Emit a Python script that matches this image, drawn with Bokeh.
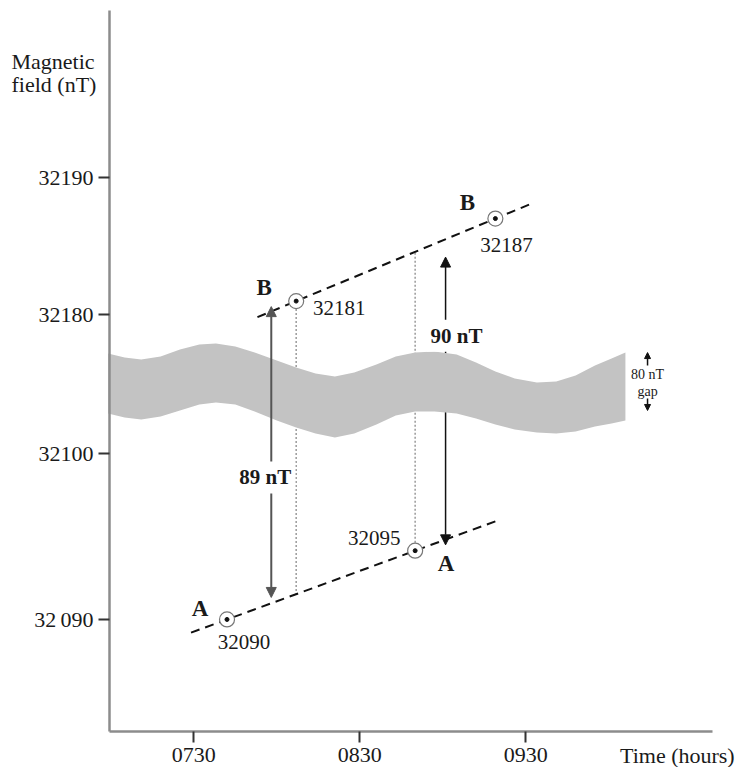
import numpy as np
from bokeh.plotting import figure
from bokeh.models import Range1d, FixedTicker, Arrow, NormalHead, ColumnDataSource
from bokeh.core.properties import value
from bokeh.embed import file_html
from bokeh.resources import INLINE

# ---------------- data ----------------
Y_TICK_VALUES = [32090, 32100, 32180, 32190]
Y_TICK_LABELS = ["32\u2009090", "32100", "32180", "32190"]
X_TICK_TIMES = ["07:30", "08:30", "09:30"]
X_TICK_LABELS = ["0730", "0830", "0930"]
Y_TITLE = ["Magnetic", "field (nT)"]
X_TITLE = "Time (hours)"

POINT_NAMES = ["A", "B", "A", "B"]
POINT_TIMES = ["07:42", "08:07", "08:50", "09:19"]
POINT_VALUES = [32090, 32181, 32095, 32187]
POINT_TEXT = ["32090", "32181", "32095", "32187"]

LINE_A_TIMES = ["07:29", "09:20"]
LINE_B_TIMES = ["07:53", "09:33"]

ARROW_TIMES = ["07:58", "09:01"]
ARROW_LOW = [32091.6, 32095.3]
ARROW_HIGH = [32180.6, 32184.2]
ARROW_TEXT = ["89 nT", "90 nT"]

GAP_TEXT = ["80 nT", "gap"]

# axis break: field value (nT) -> position on the drawn (broken) axis
BREAK_NT = [32080, 32095, 32100, 32180, 32200]
BREAK_POS = [-10.0, 5.0, 12.04, 22.14, 42.14]

# grey band marking the axis break (minutes, axis position)
BAND_TIMES = [419, 425, 431, 438, 445, 452, 458, 465, 472, 480, 487, 494, 501, 508,
              516, 523, 530, 537, 545, 552, 559, 566, 574, 581, 588, 595, 601, 606]
BAND_TOP = [19.33, 19.04, 18.90, 19.11, 19.62, 19.99, 20.06, 19.84, 19.40, 18.82, 18.31,
            17.88, 17.66, 17.95, 18.53, 19.11, 19.40, 19.48, 19.26, 18.68, 18.02, 17.51,
            17.22, 17.30, 17.73, 18.46, 18.97, 19.40]
BAND_BOTTOM = [14.97, 14.68, 14.53, 14.75, 15.19, 15.63, 15.77, 15.63, 15.12, 14.46, 13.95,
               13.52, 13.23, 13.52, 14.17, 14.83, 15.12, 15.12, 14.97, 14.61, 14.17, 13.81,
               13.59, 13.52, 13.66, 14.03, 14.24, 14.46]

# ---------------- layout (data units) ----------------
X_RANGE = (380.13, 645.79)
Y_RANGE = (-10.76, 44.99)
X_AXIS_AT = -8.14          # where the time axis crosses
Y_AXIS_AT = 419.57         # where the field axis crosses
X_AXIS_END = 637.48
Y_AXIS_END = 44.26


def minutes(s):
    h, m = s.split(":")
    return int(h) * 60 + int(m)


def pos(v):
    return np.interp(v, BREAK_NT, BREAK_POS)


FONT = "Liberation Serif"
TXT = "#1a1a1a"

p = figure(width=735, height=767,
           x_range=Range1d(*X_RANGE), y_range=Range1d(*Y_RANGE),
           output_backend="svg", toolbar_location=None, min_border=0,
           min_border_left=0, min_border_right=0, min_border_top=0, min_border_bottom=0)
p.outline_line_color = None
p.background_fill_color = "white"
p.border_fill_color = "white"
p.xgrid.visible = False
p.ygrid.visible = False

for ax in (p.xaxis[0], p.yaxis[0]):
    ax.axis_line_color = "#8c8c8c"
    ax.axis_line_width = 2.5
    ax.major_tick_line_color = "#333333"
    ax.major_tick_line_width = 2
    ax.major_tick_in = 0
    ax.minor_tick_line_color = None
    ax.major_label_text_font = FONT
    ax.major_label_text_font_size = "22px"
    ax.major_label_text_color = TXT

p.xaxis.fixed_location = X_AXIS_AT
p.xaxis.bounds = (Y_AXIS_AT, X_AXIS_END)
p.yaxis.fixed_location = Y_AXIS_AT
p.yaxis.bounds = (X_AXIS_AT, Y_AXIS_END)
p.xaxis.major_tick_out = 11
p.xaxis.major_label_standoff = 6
p.yaxis.major_tick_out = 11
p.yaxis.major_label_standoff = 5

xt = [float(minutes(s)) for s in X_TICK_TIMES]
p.xaxis.ticker = FixedTicker(ticks=xt)
p.xaxis.major_label_overrides = {k: lab for k, lab in zip(xt, X_TICK_LABELS)}
yt = [float(pos(v)) for v in Y_TICK_VALUES]
p.yaxis.ticker = FixedTicker(ticks=yt)
p.yaxis.major_label_overrides = {k: lab for k, lab in zip(yt, Y_TICK_LABELS)}

# points
pt = np.array([minutes(s) for s in POINT_TIMES], dtype=float)
py = pos(np.array(POINT_VALUES, dtype=float))
ia = [i for i, n in enumerate(POINT_NAMES) if n == "A"]
ib = [i for i, n in enumerate(POINT_NAMES) if n == "B"]


def fit(idx):
    k = (py[idx[1]] - py[idx[0]]) / (pt[idx[1]] - pt[idx[0]])
    return lambda t: py[idx[0]] + k * (np.asarray(t, dtype=float) - pt[idx[0]])


lineA = fit(ia)
lineB = fit(ib)

# dotted verticals joining each point to the other trend line
dx0 = [pt[ib[0]], pt[ia[1]]]
dy0 = [py[ib[0]], py[ia[1]]]
dy1 = [float(lineA(pt[ib[0]])), float(lineB(pt[ia[1]]))]
p.segment(x0=dx0, y0=dy0, x1=dx0, y1=dy1, line_color="#9a9a9a", line_width=1.5,
          line_dash="2 2")

# 90 nT arrow runs behind the band
c90 = "#111111"
a90 = Arrow(x_start=minutes(ARROW_TIMES[1]), y_start=float(pos(ARROW_LOW[1])),
            x_end=minutes(ARROW_TIMES[1]), y_end=float(pos(ARROW_HIGH[1])),
            start=NormalHead(size=10, fill_color=c90, line_color=c90),
            end=NormalHead(size=10, fill_color=c90, line_color=c90),
            line_color=c90, line_width=1.5, level="underlay")
p.add_layout(a90)

# band
p.patch(x=BAND_TIMES + BAND_TIMES[::-1], y=BAND_TOP + BAND_BOTTOM[::-1],
        fill_color="#c3c3c3", line_color=None)

# trend lines
ta = [minutes(s) for s in LINE_A_TIMES]
tb = [minutes(s) for s in LINE_B_TIMES]
p.line(ta, lineA(ta), line_color="#111111", line_width=2, line_dash="9 6")
p.line(tb, lineB(tb), line_color="#111111", line_width=2, line_dash="9 6")

# 89 nT arrow over the band
c89 = "#555555"
a89 = Arrow(x_start=minutes(ARROW_TIMES[0]), y_start=float(pos(ARROW_LOW[0])),
            x_end=minutes(ARROW_TIMES[0]), y_end=float(pos(ARROW_HIGH[0])),
            start=NormalHead(size=10, fill_color=c89, line_color=c89),
            end=NormalHead(size=10, fill_color=c89, line_color=c89),
            line_color=c89, line_width=2)
p.add_layout(a89)

# point markers
src = ColumnDataSource(dict(
    t=pt, y=py, val=POINT_TEXT, name=POINT_NAMES,
    vx=[17, 43, -41, 11], vy=[23, 7, -13, 26],
    nx=[-27, -32, 31, -28], ny=[-11, -14, 13, -16],
))
p.scatter("t", "y", source=src, size=15, fill_color="white", line_color="#777777",
          line_width=1.2)
p.scatter("t", "y", source=src, size=4, fill_color="#111111", line_color="#111111")
p.text("t", "y", text="val", source=src, x_offset="vx", y_offset="vy",
       text_align="center", text_baseline="middle", text_font=value(FONT),
       text_font_size="21px", text_color=TXT)
p.text("t", "y", text="name", source=src, x_offset="nx", y_offset="ny",
       text_align="center", text_baseline="middle", text_font=value(FONT),
       text_font_size="23px", text_font_style="bold", text_color=TXT)

# arrow labels
asrc = ColumnDataSource(dict(
    t=[minutes(s) for s in ARROW_TIMES], y=[float(pos(v)) for v in ARROW_LOW],
    text=ARROW_TEXT, dx=[-6, 11], dy=[-120, -209],
))
p.text("t", "y", text="text", source=asrc, x_offset="dx", y_offset="dy",
       text_align="center", text_baseline="middle", text_font=value(FONT),
       text_font_size="21px", text_font_style="bold", text_color=TXT,
       background_fill_color="white", padding=4, level="overlay")

# 80 nT gap note
gx = 614
p.add_layout(Arrow(x_start=gx, y_start=18.46, x_end=gx, y_end=BAND_TOP[-1],
                   end=NormalHead(size=6, fill_color="#111", line_color="#111"),
                   line_color="#111", line_width=1.5))
p.add_layout(Arrow(x_start=gx, y_start=16.06, x_end=gx, y_end=15.19,
                   end=NormalHead(size=6, fill_color="#111", line_color="#111"),
                   line_color="#111", line_width=1.5))
p.text([gx, gx], [17.80, 16.57], text=GAP_TEXT, text_align="center",
       text_baseline="middle", text_font=value(FONT), text_font_size="14px",
       text_color=TXT)

# axis titles
p.text([384.1, 384.1], [40.55, 38.85], text=Y_TITLE, text_align="left",
       text_baseline="middle", text_font=value(FONT), text_font_size="22px",
       text_color=TXT)
p.text([645.5], [-9.90], text=[X_TITLE], text_align="right",
       text_baseline="middle", text_font=value(FONT), text_font_size="22px",
       text_color=TXT)

open("out.html", "w").write(file_html(p, INLINE))
